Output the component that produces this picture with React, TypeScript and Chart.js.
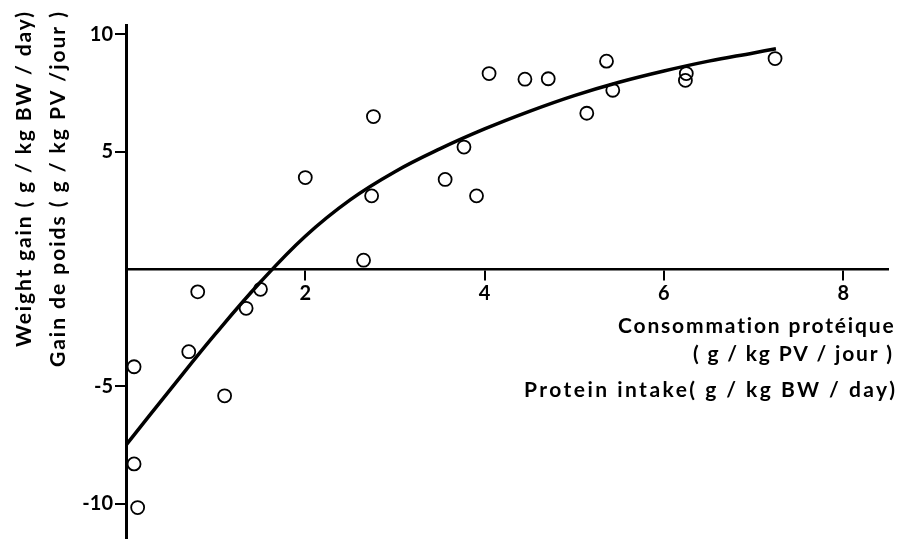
import React, { useEffect, useRef } from 'react';
import { Chart, registerables } from 'chart.js';

Chart.register(...registerables);

// Observed points: protein intake (g/kg BW/day) vs weight gain (g/kg BW/day)
const intakeX = [0.80, 1.50, 1.34, 0.70, 0.09, 1.10, 0.09, 0.13, 2.00, 2.76, 2.74, 2.65, 3.56, 3.77, 3.91, 4.05, 4.45, 4.71, 5.14, 5.36, 5.43, 6.25, 6.24, 7.24];
const gainY = [-0.97, -0.86, -1.67, -3.52, -4.16, -5.40, -8.30, -10.16, 3.90, 6.50, 3.12, 0.38, 3.82, 5.20, 3.12, 8.33, 8.09, 8.11, 6.64, 8.86, 7.62, 8.33, 8.04, 8.97];

// Fitted response curve
const curveX = [0, 0.5, 1, 1.5, 2, 2.5, 3, 3.5, 4, 4.5, 5, 5.5, 6, 6.5, 7, 7.25];
const curveY = [-7.5, -5.1, -2.75, -0.55, 1.4, 2.95, 4.15, 5.12, 5.97, 6.72, 7.39, 7.96, 8.44, 8.86, 9.21, 9.39];

const xTickLabels = [2, 4, 6, 8];
const yTickLabels = [10, 5, -5, -10];

const Y_TITLE_EN = 'Weight gain ( g / kg BW / day)';
const Y_TITLE_FR = 'Gain de poids ( g / kg PV /jour )';
const X_TITLE_FR1 = 'Consommation protéique';
const X_TITLE_FR2 = '( g / kg PV / jour )';
const X_TITLE_EN = 'Protein intake( g / kg BW / day)';

const FONT = '"Lato", "DejaVu Sans", sans-serif';

function drawFitted(ctx: CanvasRenderingContext2D, text: string, x: number, y: number, width: number) {
  (ctx as any).letterSpacing = '0px';
  const w = ctx.measureText(text).width;
  const ls = (width - w) / Math.max(1, text.length - 1);
  (ctx as any).letterSpacing = ls + 'px';
  ctx.textAlign = 'left';
  ctx.fillText(text, x - width, y);
  (ctx as any).letterSpacing = '0px';
}

const titlesPlugin = {
  id: 'titles',
  afterDraw(chart: any) {
    const ctx: CanvasRenderingContext2D = chart.ctx;
    ctx.save();
    ctx.fillStyle = '#000';
    ctx.font = `bold 21px ${FONT}`;
    ctx.textBaseline = 'middle';
    drawFitted(ctx, X_TITLE_FR1, 894, 326, 276);
    drawFitted(ctx, X_TITLE_FR2, 892, 354, 199);
    drawFitted(ctx, X_TITLE_EN, 895, 390, 371);
    ctx.restore();

    ctx.save();
    ctx.fillStyle = '#000';
    ctx.font = `bold 21px ${FONT}`;
    ctx.textBaseline = 'middle';
    ctx.translate(24, 12);
    ctx.rotate(-Math.PI / 2);
    drawFitted(ctx, Y_TITLE_EN, 0, 0, 335);
    ctx.restore();

    ctx.save();
    ctx.fillStyle = '#000';
    ctx.font = `bold 21px ${FONT}`;
    ctx.textBaseline = 'middle';
    ctx.translate(58, 12);
    ctx.rotate(-Math.PI / 2);
    drawFitted(ctx, Y_TITLE_FR, 0, 0, 355);
    ctx.restore();
  },
};

export default function App() {
  const ref = useRef<HTMLCanvasElement | null>(null);

  useEffect(() => {
    if (!ref.current) return;
    const points = intakeX.map((x, i) => ({ x, y: gainY[i] }));
    const curve = curveX.map((x, i) => ({ x, y: curveY[i] }));
    const chart = new Chart(ref.current, {
      type: 'scatter',
      data: {
        datasets: [
          {
            label: 'fit',
            data: curve,
            showLine: true,
            borderColor: '#000',
            borderWidth: 3.5,
            pointRadius: 0,
            tension: 0.4,
            fill: false,
          } as any,
          {
            label: 'obs',
            data: points,
            showLine: false,
            pointRadius: 6.5,
            pointBorderWidth: 1.8,
            pointBorderColor: '#000',
            pointBackgroundColor: 'rgba(0,0,0,0)',
          } as any,
        ],
      },
      options: {
        animation: false,
        responsive: false,
        devicePixelRatio: 1,
        layout: { autoPadding: false, padding: { left: 0, right: 11, top: 25, bottom: 0 } },
        plugins: {
          legend: { display: false },
          tooltip: { enabled: false },
          title: { display: false },
        },
        scales: {
          x: {
            type: 'linear',
            min: 0,
            max: 8.5,
            position: { y: 0 } as any,
            afterFit: (s: any) => {
              s.paddingLeft = 0;
              s.paddingRight = 0;
            },
            ticks: {
              stepSize: 2,
              includeBounds: false,
              color: '#000',
              padding: 2,
              font: { family: FONT, size: 20, weight: 'bold' },
              maxRotation: 0,
              callback: (v: any) => (xTickLabels.includes(Number(v)) ? String(v) : ''),
            },
            grid: {
              display: true,
              drawOnChartArea: false,
              drawTicks: true,
              tickLength: 10,
              lineWidth: 2,
              color: (c: any) => (c.tick && c.tick.value === 0 ? 'rgba(0,0,0,0)' : '#000'),
            },
            border: { display: true, color: '#000', width: 2.5 },
          } as any,
          y: {
            type: 'linear',
            min: -11.5,
            max: 10.4,
            position: 'left',
            afterFit: (s: any) => {
              s.width = 126;
              s.paddingTop = 0;
              s.paddingBottom = 0;
            },
            ticks: {
              stepSize: 5,
              includeBounds: false,
              color: '#000',
              padding: 2,
              font: { family: FONT, size: 20, weight: 'bold' },
              callback: (v: any) => (yTickLabels.includes(Number(v)) ? String(v) : ''),
            },
            grid: {
              display: true,
              drawOnChartArea: false,
              drawTicks: true,
              tickLength: 11,
              lineWidth: 2,
              color: (c: any) => (c.tick && c.tick.value === 0 ? 'rgba(0,0,0,0)' : '#000'),
            },
            border: { display: true, color: '#000', width: 3 },
          } as any,
        },
      },
      plugins: [titlesPlugin],
    });
    return () => chart.destroy();
  }, []);

  return (
    <div style={{ position: 'fixed', left: 0, top: 0, width: 899, height: 539, background: '#fff' }}>
      <canvas ref={ref} width={899} height={539} style={{ display: 'block' }} />
    </div>
  );
}
